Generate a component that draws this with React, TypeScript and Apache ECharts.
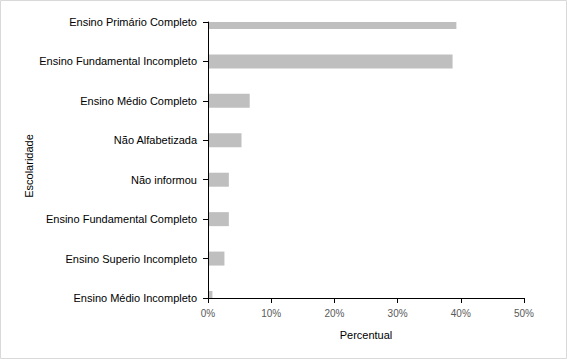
import React, { useEffect, useRef } from "react";
import * as echarts from "echarts";

const categories = [
  "Ensino Primário Completo",
  "Ensino Fundamental Incompleto",
  "Ensino Médio Completo",
  "Não Alfabetizada",
  "Não informou",
  "Ensino Fundamental Completo",
  "Ensino Superio Incompleto",
  "Ensino Médio Incompleto",
];
const values = [39.3, 38.7, 6.6, 5.3, 3.3, 3.3, 2.6, 0.7];
const xTicks = { min: 0, max: 50, interval: 10 };

export default function App() {
  const ref = useRef<HTMLDivElement>(null);
  useEffect(() => {
    document.body.style.margin = "0";
    const chart = echarts.init(ref.current!, null, { renderer: "svg" });
    chart.setOption({
      animation: false,
      backgroundColor: "#ffffff",
      textStyle: { fontFamily: "Liberation Sans" },
      graphic: [
        {
          type: "rect",
          shape: { x: 0.5, y: 0.5, width: 566, height: 358 },
          style: { fill: "none", stroke: "#d9d9d9", lineWidth: 1 },
          silent: true,
        },
      ],
      grid: { left: 208, right: 43, top: 22, bottom: 61 },
      xAxis: {
        type: "value",
        min: xTicks.min,
        max: xTicks.max,
        interval: xTicks.interval,
        name: "Percentual",
        nameLocation: "middle",
        nameGap: 31,
        nameMoveOverlap: false,
        nameTextStyle: { color: "#000000", fontSize: 11 },
        axisLine: { show: true, lineStyle: { color: "#000000", width: 1 } },
        axisTick: { show: true, length: 5, lineStyle: { color: "#000000" } },
        axisLabel: {
          color: "#595959",
          fontSize: 10,
          margin: 10,
          formatter: (v: number) => v + "%",
        },
        splitLine: { show: false },
      },
      yAxis: {
        type: "category",
        data: categories,
        inverse: true,
        boundaryGap: false,
        name: "Escolaridade",
        nameLocation: "middle",
        nameGap: 174,
        nameMoveOverlap: false,
        nameTextStyle: { color: "#000000", fontSize: 11, padding: [0, 12, 0, 0] },
        axisLine: { show: true, lineStyle: { color: "#000000", width: 1 } },
        axisTick: { show: true, length: 5, lineStyle: { color: "#000000" } },
        axisLabel: { color: "#000000", fontSize: 11, margin: 11 },
        z: 10,
      },
      series: [
        {
          type: "custom",
          data: values.map((v, i) => [v, i]),
          encode: { x: 0, y: 1 },
          z: 1,
          renderItem: (params: any, api: any) => {
            const v = api.value(0);
            const idx = api.value(1);
            const start = api.coord([0, idx]);
            const end = api.coord([v, idx]);
            const h = 14;
            const rect = echarts.graphic.clipRectByRect(
              { x: start[0], y: start[1] - h / 2, width: end[0] - start[0], height: h },
              {
                x: params.coordSys.x,
                y: params.coordSys.y,
                width: params.coordSys.width,
                height: params.coordSys.height,
              }
            );
            if (!rect) return null;
            return {
              type: "rect",
              shape: rect,
              style: { fill: "#bfbfbf" },
            };
          },
        },
      ],
    });
    return () => chart.dispose();
  }, []);
  return (
    <div
      ref={ref}
      style={{ position: "absolute", left: 0, top: 0, width: 567, height: 359 }}
    />
  );
}
